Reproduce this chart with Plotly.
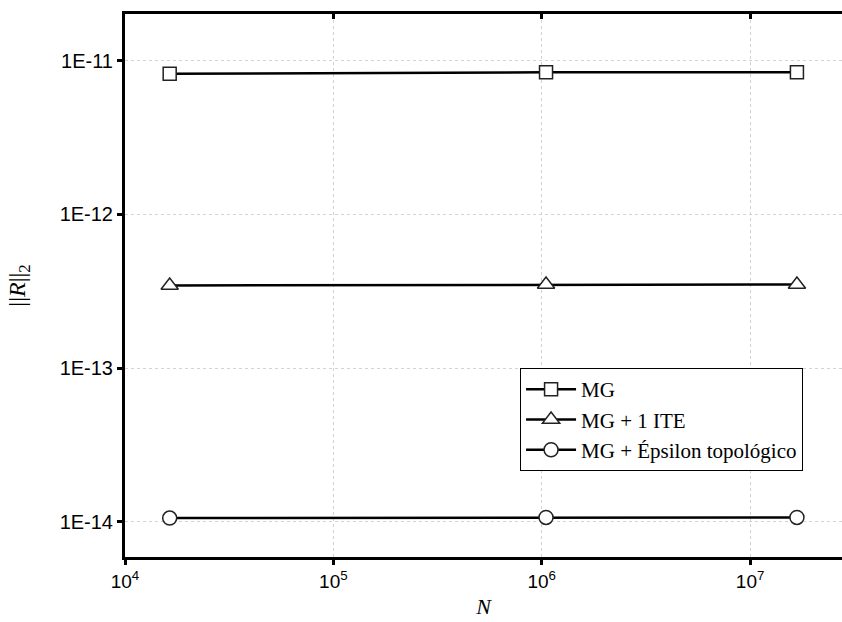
import plotly.graph_objects as go

N = [16384, 1048576, 16777216]
mg = [8.2e-12, 8.4e-12, 8.4e-12]
mg_ite = [3.45e-13, 3.5e-13, 3.5e-13]
mg_eps = [1.06e-14, 1.07e-14, 1.07e-14]
names = ["MG", "MG + 1 ITE", "MG + Épsilon topológico"]
symbols = ["square", "triangle-up", "circle"]

x_tickvals = [1e4, 1e5, 1e6, 1e7]
x_ticktext = ["10<sup>4</sup>", "10<sup>5</sup>", "10<sup>6</sup>", "10<sup>7</sup>"]
y_tickvals = [1e-11, 1e-12, 1e-13, 1e-14]
y_ticktext = ["1E-11", "1E-12", "1E-13", "1E-14"]

fig = go.Figure()
for ys, nm, sym, sz in zip([mg, mg_ite, mg_eps], names, symbols, [13, 15, 14]):
    fig.add_trace(go.Scatter(
        x=N, y=ys, name=nm, mode="lines+markers",
        line=dict(color="black", width=2.5),
        marker=dict(symbol=sym, size=sz, color="white",
                    line=dict(color="#222222", width=1.5)),
    ))

# invisible trace for the top axis
fig.add_trace(go.Scatter(x=N, y=mg, xaxis="x2", mode="none",
                         showlegend=False, hoverinfo="skip"))

xr = [4, 7.441]
fig.update_layout(
    width=842, height=622,
    margin=dict(l=125, r=0, t=14, b=65),
    paper_bgcolor="white", plot_bgcolor="white",
    font=dict(family="Liberation Sans, Arial", color="black"),
    xaxis=dict(
        type="log", range=xr,
        tickvals=x_tickvals, ticktext=x_ticktext,
        tickfont=dict(size=19, family="Liberation Sans, Arial"),
        showline=True, linecolor="black", linewidth=3,
        ticks="outside", ticklen=5, tickwidth=3, tickcolor="black",
        showgrid=True, gridcolor="#d2d2d2", gridwidth=1, griddash="dot",
        zeroline=False,
        title=dict(text="<i>N</i>", font=dict(size=22, family="Liberation Serif, Times New Roman"), standoff=8),
    ),
    xaxis2=dict(
        type="log", range=xr, overlaying="x", side="top",
        tickvals=x_tickvals, showticklabels=False,
        showline=True, linecolor="black", linewidth=3,
        ticks="inside", ticklen=5, tickwidth=3, tickcolor="black",
        showgrid=False, zeroline=False,
    ),
    yaxis=dict(
        type="log", range=[-14.228, -10.697],
        tickvals=y_tickvals, ticktext=y_ticktext,
        tickfont=dict(size=20, family="Liberation Sans, Arial"),
        showline=True, linecolor="black", linewidth=3,
        ticks="outside", ticklen=5, tickwidth=3, tickcolor="black",
        showgrid=True, gridcolor="#d2d2d2", gridwidth=1, griddash="dot",
        zeroline=False,
        title=dict(text="||<i>R</i>||<sub>2</sub>", font=dict(size=24, family="Liberation Serif, Times New Roman"), standoff=28),
    ),
    legend=dict(
        x=0.551, y=0.348, xanchor="left", yanchor="top",
        bgcolor="white", bordercolor="black", borderwidth=1,
        font=dict(size=21, family="Liberation Serif, Times New Roman", color="black"),
        tracegroupgap=0, itemwidth=50,
    ),
    showlegend=True,
)

fig.write_html("out.html", config={"displayModeBar": False},
               post_script="document.body.style.margin='0';document.body.style.overflow='hidden';")
